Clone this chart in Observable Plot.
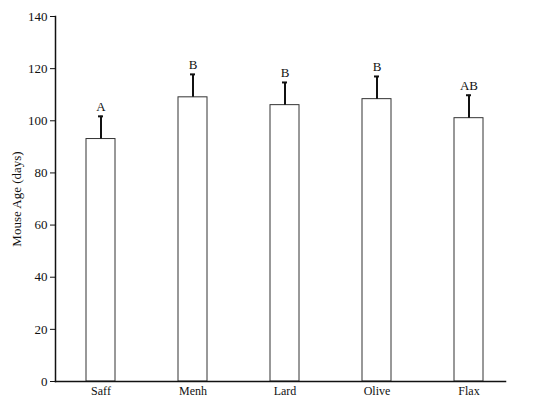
<!DOCTYPE html>
<html>
<head>
<meta charset="utf-8">
<script src="https://cdn.jsdelivr.net/npm/d3@7"></script>
<script src="https://cdn.jsdelivr.net/npm/@observablehq/plot@0.6"></script>
<style>
  html, body { margin: 0; padding: 0; background: #fff; }
  #chart svg { display: block; }
  #chart svg text { font-family: "Liberation Serif", "Times New Roman", serif; }
</style>
</head>
<body>
<div id="chart"></div>
<script>
const diets = ["Saff", "Menh", "Lard", "Olive", "Flax"];
const means = [93, 109, 106, 108.3, 101];
const upper = [101.7, 117.8, 114.7, 117, 109.8];
const letters = ["A", "B", "B", "B", "AB"];
const yTicks = [0, 20, 40, 60, 80, 100, 120, 140];

const data = diets.map((d, i) => ({diet: d, mean: means[i], upper: upper[i], letter: letters[i]}));

const font = "'Liberation Serif', 'Times New Roman', serif";

const chart = Plot.plot({
  width: 550,
  height: 404,
  marginTop: 16,
  marginBottom: 23,
  marginLeft: 55,
  marginRight: 45,
  style: {fontFamily: font, fontSize: "13px", color: "#111", background: "#fff"},
  x: {domain: diets, paddingInner: 0.686, paddingOuter: 0.285, align: 0.58, label: null},
  y: {domain: [0, 140], label: null},
  marks: [
    Plot.barY(data, {x: "diet", y: "mean", fill: "white", stroke: "#333", strokeWidth: 1}),
    Plot.ruleX(data, {x: "diet", y1: "mean", y2: "upper", stroke: "#111", strokeWidth: 2}),
    Plot.tickY(data, {x: "diet", y: "upper", stroke: "#111", strokeWidth: 2, insetLeft: 12, insetRight: 12}),
    Plot.text(data, {x: "diet", y: "upper", text: "letter", dy: -5, lineAnchor: "bottom", fontSize: 13, fill: "#111"}),
    Plot.axisY({ticks: yTicks, tickSize: 5, tickPadding: 3, stroke: "#111", fontSize: 13,
      label: "Mouse Age (days)", labelAnchor: "center", labelArrow: "none", labelOffset: 44}),
    Plot.axisX({tickSize: 0, tickPadding: 5, fontSize: 12}),
    Plot.frame({anchor: "left", stroke: "#111", strokeWidth: 1.5}),
    Plot.frame({anchor: "bottom", stroke: "#111", strokeWidth: 1.5})
  ]
});
document.getElementById("chart").appendChild(chart);
</script>
</body>
</html>
